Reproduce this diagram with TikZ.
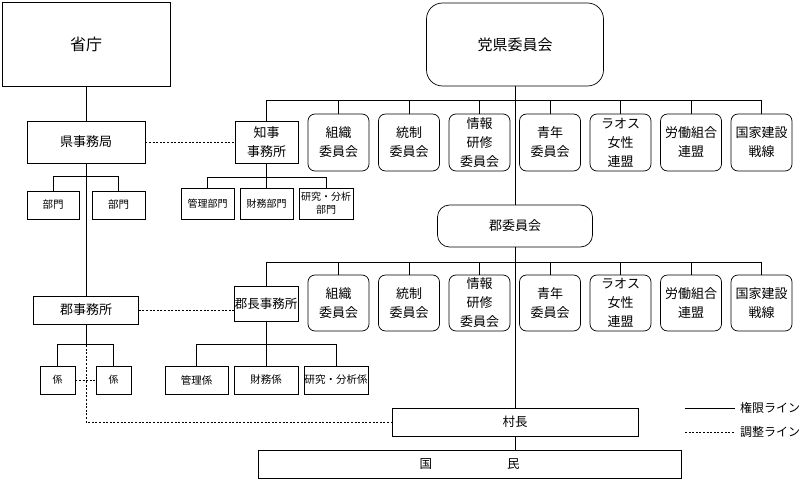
\documentclass[tikz,border=0pt]{standalone}
\usepackage{fontspec}
\setmainfont{Noto Sans CJK JP}
\begin{document}
\begin{tikzpicture}[x=1pt,y=-1pt,
  line/.style={line width=0.7pt},
  coord/.style={line width=0.7pt, dash pattern=on 2pt off 1.6pt},
  box/.style={draw, line width=0.7pt, rectangle, inner sep=0pt, align=center},
  rbox/.style={box, rounded corners=7pt},
  comm/.style={rbox, minimum width=61pt, minimum height=57pt, font=\fontsize{13}{19}\selectfont},
  small/.style={box, minimum height=28pt, font=\fontsize{10.5}{13}\selectfont},
  mid/.style={box, font=\fontsize{13}{19}\selectfont}
]
\useasboundingbox (0,0) rectangle (809,481);

% left column
\node[box, minimum width=168pt, minimum height=84pt, font=\fontsize{16}{19}\selectfont] (shocho) at (86,44) {省庁};
\node[mid, minimum width=118pt, minimum height=42pt] (kenjimu) at (86,142) {県事務局};
\node[small, minimum width=52pt] (bumonA) at (53,205) {部門};
\node[small, minimum width=53pt] (bumonB) at (118.5,205) {部門};
\node[mid, minimum width=105pt, minimum height=28pt] (gunjimu) at (86,310) {郡事務所};
\node[small, minimum width=35pt, font=\fontsize{10}{12}\selectfont] (kakariA) at (57.5,380) {係};
\node[small, minimum width=35pt, font=\fontsize{10}{12}\selectfont] (kakariB) at (113.5,380) {係};

% governor office
\node[mid, minimum width=63pt, minimum height=42pt] (chiji) at (266.5,142) {知事\\事務所};
\node[small, minimum width=53pt, minimum height=31pt, font=\fontsize{10}{12}\selectfont] (kanriA) at (207.5,203.5) {管理部門};
\node[small, minimum width=53pt, minimum height=31pt, font=\fontsize{10}{12}\selectfont] (zaimuA) at (266.5,203.5) {財務部門};
\node[small, minimum width=54pt, minimum height=31pt, font=\fontsize{10}{13}\selectfont] (kenkyuA) at (326,203.5) {研究・分析\\部門};

% district chief office
\node[mid, minimum width=64pt, minimum height=35pt, font=\fontsize{12.5}{15}\selectfont] (guncho) at (266,303.5) {郡長事務所};
\node[small, minimum width=63pt, font=\fontsize{10.5}{13}\selectfont] (kanriB) at (196.5,380) {管理係};
\node[small, minimum width=64pt, font=\fontsize{10.5}{13}\selectfont] (zaimuB) at (266,380) {財務係};
\node[small, minimum width=64pt, font=\fontsize{10.5}{13}\selectfont] (kenkyuB) at (336,380) {研究・分析係};

% party
\node[box, rounded corners=16pt, minimum width=177pt, minimum height=83pt, font=\fontsize{15}{18}\selectfont] (party) at (515,44.5) {党県委員会};
\node[box, rounded corners=12pt, minimum width=155pt, minimum height=42pt, font=\fontsize{13}{16}\selectfont] (gunc) at (515,226) {郡委員会};

% committees row 1
\node[comm] (a1) at (338.5,142.5) {組織\\委員会};
\node[comm] (a2) at (409,142.5) {統制\\委員会};
\node[comm] (a3) at (479.5,142.5) {情報\\研修\\委員会};
\node[comm] (a4) at (550,142.5) {青年\\委員会};
\node[comm] (a5) at (620.5,142.5) {ラオス\\女性\\連盟};
\node[comm] (a6) at (691,142.5) {労働組合\\連盟};
\node[comm] (a7) at (761.5,142.5) {国家建設\\戦線};

% committees row 2
\node[comm, minimum height=56pt] (b1) at (338.5,303) {組織\\委員会};
\node[comm, minimum height=56pt] (b2) at (409,303) {統制\\委員会};
\node[comm, minimum height=56pt] (b3) at (479.5,303) {情報\\研修\\委員会};
\node[comm, minimum height=56pt] (b4) at (550,303) {青年\\委員会};
\node[comm, minimum height=56pt] (b5) at (620.5,303) {ラオス\\女性\\連盟};
\node[comm, minimum height=56pt] (b6) at (691,303) {労働組合\\連盟};
\node[comm, minimum height=56pt] (b7) at (761.5,303) {国家建設\\戦線};

% village chief and people
\node[box, minimum width=246pt, minimum height=28pt, font=\fontsize{12.5}{15}\selectfont] (soncho) at (515,422) {村長};
\node[box, minimum width=423pt, minimum height=28pt, font=\fontsize{12.5}{15}\selectfont] (kokumin) at (469.5,464) {国\hspace{75pt}民};

% bus coordinates
\coordinate (busT) at (0,100);
\coordinate (busM) at (0,262);
\coordinate (busK) at (0,345);

% authority lines
\draw[line] (shocho.south) -- (kenjimu.north);
\draw[line] (kenjimu.south) -- (kenjimu.south |- gunjimu.north);
\draw[line] (bumonA.north) -- ++(0,-14) -| (bumonB.north);

\draw[line] (chiji.north) |- (a7.north |- busT) -- (a7.north);
\foreach \n in {a1,a2,a3,a4,a5,a6} \draw[line] (\n.north) -- (\n.north |- busT);
\draw[line] (chiji.south) -- (zaimuA.north);
\draw[line] (kanriA.north) -- ++(0,-10) -| (kenkyuA.north);

\draw[line] (party.south) -- (gunc.north);
\draw[line] (gunc.south) -- (soncho.north);
\draw[line] (soncho.south) -- (soncho.south |- kokumin.north);

\draw[line] (guncho.north) |- (b7.north |- busM) -- (b7.north);
\foreach \n in {b1,b2,b3,b4,b5,b6} \draw[line] (\n.north) -- (\n.north |- busM);
\draw[line] (guncho.south) -- (zaimuB.north);
\draw[line] (kanriB.north) -- ++(0,-21) -| (kenkyuB.north);

\draw[line] (gunjimu.south) -- (gunjimu.south |- busK);
\draw[line] (kakariA.north) -- ++(0,-21) -| (kakariB.north);

% coordination lines
\draw[coord] (kenjimu.east) -- (chiji.west);
\draw[coord] (gunjimu.east) -- (gunjimu.east -| guncho.west);
\draw[coord] (kakariA.east) -- (kakariB.west);
\draw[coord] (gunjimu.south |- busK) |- (soncho.west);

% legend
\coordinate (l1a) at (685,408);
\coordinate (l1b) at (735,408);
\coordinate (l2a) at (685,432);
\coordinate (l2b) at (735,432);
\draw[line] (l1a) -- (l1b);
\draw[coord] (l2a) -- (l2b);
\node[anchor=west, inner sep=0pt, font=\fontsize{12}{14}\selectfont] (leg1) at (740,408) {権限ライン};
\node[anchor=west, inner sep=0pt, font=\fontsize{12}{14}\selectfont] (leg2) at (740,432) {調整ライン};
\end{tikzpicture}
\end{document}
